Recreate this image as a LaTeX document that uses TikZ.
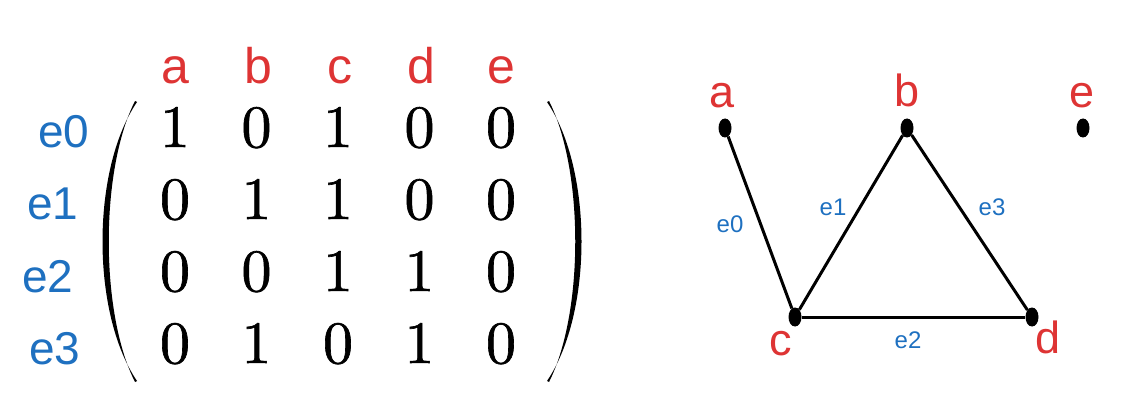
\documentclass[tikz,border=0pt]{standalone}
\usepackage{fontspec}
\newfontfamily\labelfont{Liberation Sans}
\newfontfamily\digitfont[Extension=.otf, FakeBold=1.1]{lmroman10-regular}
\usetikzlibrary{shapes.geometric}
\definecolor{vred}{RGB}{222,52,52}
\definecolor{eblue}{RGB}{30,112,192}
\begin{document}
\begin{tikzpicture}[x=1pt,y=-1pt,
  colhead/.style={anchor=base, inner sep=0, text=vred, font=\labelfont\fontsize{50}{50}\selectfont},
  rowhead/.style={anchor=base, inner sep=0, text=eblue, font=\labelfont\fontsize{46}{46}\selectfont},
  entry/.style={anchor=base, inner sep=0, font=\digitfont\fontsize{60}{60}\selectfont},
  vertex/.style={ellipse, fill=black, inner sep=0, minimum width=13pt, minimum height=19pt},
  vlabel/.style={anchor=base, inner sep=0, text=vred, font=\labelfont\fontsize{45}{45}\selectfont},
  elabel/.style={anchor=base, inner sep=0, text=eblue, font=\labelfont\fontsize{24}{24}\selectfont},
  edge/.style={line width=3pt}
]
\useasboundingbox (0,0) rectangle (1123,403);

% ---- incidence matrix ----
\foreach \name/\x in {a/175, b/258, c/340, d/421, e/501}
  \node[colhead] (h\name) at (\x,84) {\name};

\foreach \lab/\x/\y in {0/64/148, 1/53/220, 2/48/292, 3/55/364}
  \node[rowhead] (r\lab) at (\x,\y) {e\lab};

\foreach \row [count=\i from 0] in {{1,0,1,0,0},{0,1,1,0,0},{0,0,1,1,0},{0,1,0,1,0}}
  \foreach \v [count=\j from 0] in \row
    \node[entry] (m\i\j) at ({175+81.5*\j},{147+72*\i}) {\v};

% parentheses drawn as thin crescents
\fill (137,102) .. controls (91,170) and (91,313) .. (137,381)
      -- (135,382) .. controls (100,313) and (100,170) .. (135,101) -- cycle;
\fill (547,102) .. controls (593,170) and (593,313) .. (547,381)
      -- (549,382) .. controls (584,313) and (584,170) .. (549,101) -- cycle;

% ---- graph ----
\node[vertex] (a) at (725,128) {};
\node[vertex] (b) at (907,128) {};
\node[vertex] (e) at (1083,128) {};
\node[vertex] (c) at (795,317) {};
\node[vertex] (d) at (1032,317) {};

\node[vlabel] (la) at (722,108) {a};
\node[vlabel] (lb) at (907,107) {b};
\node[vlabel] (le) at (1082,108) {e};
\node[vlabel] (lc) at (781,355) {c};
\node[vlabel] (ld) at (1048,353) {d};

\draw[edge] (a) -- (c);
\draw[edge] (c) -- (b);
\draw[edge] (c) -- (d);
\draw[edge] (b) -- (d);

\node[elabel] (le0) at (730,233) {e0};
\node[elabel] (le1) at (833,215) {e1};
\node[elabel] (le3) at (992,215) {e3};
\node[elabel] (le2) at (908,348) {e2};
\end{tikzpicture}
\end{document}
